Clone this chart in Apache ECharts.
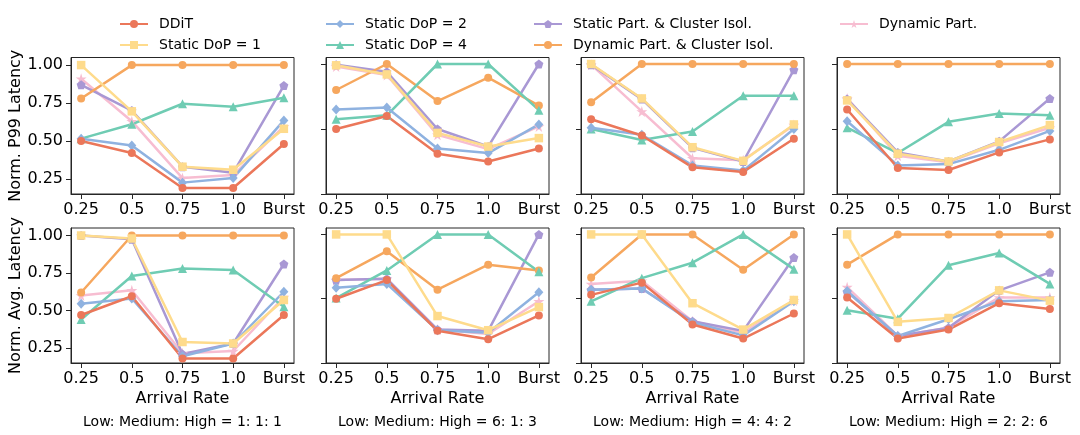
<!DOCTYPE html>
<html><head><meta charset="utf-8">
<script src="https://cdn.jsdelivr.net/npm/echarts@6/dist/echarts.min.js"></script>
<style>html,body{margin:0;padding:0;background:#fff}#c{width:1080px;height:435px}</style>
</head><body><div id="c"></div>
<script>
// ---------- data ----------
const xLabels = ['0.25', '0.5', '0.75', '1.0', 'Burst'];
const ratioLabels = ['Low: Medium: High = 1: 1: 1', 'Low: Medium: High = 6: 1: 3', 'Low: Medium: High = 4: 4: 2', 'Low: Medium: High = 2: 2: 6'];
const methods = ['DDiT', 'Static DoP = 1', 'Static DoP = 2', 'Static DoP = 4', 'Static Part. & Cluster Isol.', 'Dynamic Part. & Cluster Isol.', 'Dynamic Part.'];
const rowNames = ['Norm. P99 Latency', 'Norm. Avg. Latency'];
const col1Ticks = [0.25, 0.5, 0.75, 1.0];
const otherTicks = [0, 0.5, 1.0];

// P99 latency, one row per workload ratio
const p99_DDiT = [
  [0.50, 0.42, 0.19, 0.19, 0.48],
  [0.50, 0.60, 0.31, 0.25, 0.35],
  [0.575, 0.45, 0.205, 0.17, 0.425],
  [0.65, 0.20, 0.185, 0.32, 0.42]];
const p99_DoP1 = [
  [1.0, 0.695, 0.33, 0.31, 0.58],
  [0.99, 0.92, 0.47, 0.365, 0.43],
  [1.0, 0.735, 0.36, 0.255, 0.535],
  [0.72, 0.31, 0.25, 0.40, 0.53]];
const p99_DoP2 = [
  [0.515, 0.47, 0.225, 0.255, 0.635],
  [0.65, 0.665, 0.35, 0.315, 0.535],
  [0.51, 0.455, 0.22, 0.18, 0.50],
  [0.56, 0.22, 0.23, 0.34, 0.485]];
const p99_DoP4 = [
  [0.515, 0.61, 0.745, 0.725, 0.785],
  [0.575, 0.605, 1.0, 1.0, 0.645],
  [0.50, 0.415, 0.48, 0.755, 0.755],
  [0.51, 0.315, 0.555, 0.62, 0.605]];
const p99_StaticPart = [
  [0.87, 0.70, 0.33, 0.29, 0.865],
  [0.995, 0.94, 0.50, 0.365, 1.0],
  [0.995, 0.73, 0.355, 0.25, 0.955],
  [0.73, 0.32, 0.25, 0.405, 0.735]];
const p99_DynCluster = [
  [0.78, 1.0, 1.0, 1.0, 1.0],
  [0.80, 1.0, 0.715, 0.895, 0.68],
  [0.705, 1.0, 1.0, 1.0, 1.0],
  [1.0, 1.0, 1.0, 1.0, 1.0]];
const p99_DynPart = [
  [0.91, 0.63, 0.255, 0.275, 0.595],
  [0.98, 0.915, 0.455, 0.345, 0.52],
  [0.995, 0.635, 0.275, 0.26, 0.53],
  [0.735, 0.295, 0.245, 0.39, 0.51]];

// Average latency
const avg_DDiT = [
  [0.47, 0.595, 0.18, 0.18, 0.47],
  [0.50, 0.645, 0.25, 0.185, 0.37],
  [0.53, 0.625, 0.30, 0.19, 0.385],
  [0.51, 0.19, 0.26, 0.465, 0.42]];
const avg_DoP1 = [
  [1.0, 0.98, 0.29, 0.28, 0.57],
  [1.0, 1.0, 0.365, 0.255, 0.435],
  [1.0, 1.0, 0.465, 0.26, 0.49],
  [1.0, 0.32, 0.35, 0.565, 0.485]];
const avg_DoP2 = [
  [0.545, 0.58, 0.195, 0.28, 0.625],
  [0.585, 0.615, 0.255, 0.235, 0.55],
  [0.57, 0.58, 0.315, 0.215, 0.48],
  [0.56, 0.21, 0.34, 0.48, 0.49]];
const avg_DoP4 = [
  [0.44, 0.73, 0.78, 0.77, 0.525],
  [0.505, 0.72, 1.0, 1.0, 0.71],
  [0.48, 0.66, 0.78, 1.0, 0.73],
  [0.41, 0.345, 0.76, 0.855, 0.615]];
const avg_StaticPart = [
  [1.0, 0.975, 0.21, 0.28, 0.81],
  [0.645, 0.655, 0.26, 0.25, 1.0],
  [0.57, 0.58, 0.325, 0.25, 0.82],
  [0.555, 0.21, 0.275, 0.565, 0.705]];
const avg_DynCluster = [
  [0.62, 1.0, 1.0, 1.0, 1.0],
  [0.66, 0.87, 0.57, 0.765, 0.72],
  [0.665, 1.0, 1.0, 0.725, 1.0],
  [0.765, 1.0, 1.0, 1.0, 1.0]];
const avg_DynPart = [
  [0.60, 0.635, 0.215, 0.23, 0.59],
  [0.645, 0.655, 0.26, 0.225, 0.48],
  [0.615, 0.64, 0.325, 0.235, 0.485],
  [0.59, 0.21, 0.275, 0.51, 0.51]];

const p99Values = [p99_DDiT, p99_DoP1, p99_DoP2, p99_DoP4, p99_StaticPart, p99_DynCluster, p99_DynPart];
const avgValues = [avg_DDiT, avg_DoP1, avg_DoP2, avg_DoP4, avg_StaticPart, avg_DynCluster, avg_DynPart];

// ---------- styles ----------
const STAR = 'path://M50,0 L61,35 L98,35 L68,57 L79,91 L50,70 L21,91 L32,57 L2,35 L39,35 Z';
const PENT = 'path://M50,0 L97,35 L79,90 L21,90 L3,35 Z';
const styles = [
  {color: '#EB775A', symbol: 'circle', size: 8},
  {color: '#FEDB8C', symbol: 'rect', size: 8.5},
  {color: '#8FB2E0', symbol: 'diamond', size: [9, 10]},
  {color: '#6FCCB3', symbol: 'triangle', size: 9},
  {color: '#A998D4', symbol: PENT, size: 9},
  {color: '#F6A75E', symbol: 'circle', size: 8},
  {color: '#F7BDD1', symbol: STAR, size: 11}
];
const drawOrder = [6, 4, 5, 3, 2, 0, 1];

const FONT = 'DejaVu Sans';
const colLeft = [71, 326, 581, 837];
const colWidth = 223;
const rowTop = [57.5, 228];
const rowHeight = [136.5, 135];

const grids = [], xAxes = [], yAxes = [], series = [], graphics = [];
for (let r = 0; r < 2; r++) {
  for (let c = 0; c < 4; c++) {
    const k = r * 4 + c;
    grids.push({left: colLeft[c], top: rowTop[r], width: colWidth, height: rowHeight[r],
      show: true, borderColor: '#262626', borderWidth: 1, backgroundColor: 'transparent', containLabel: false});
    xAxes.push({type: 'value', gridIndex: k, min: -0.2, max: 4.2,
      name: r === 1 ? 'Arrival Rate' : '', nameLocation: 'middle', nameGap: 28,
      nameTextStyle: {fontFamily: FONT, fontSize: 16, color: '#000'},
      axisLine: {show: true, onZero: false, lineStyle: {color: '#262626', width: 1}},
      axisTick: {show: true, length: 5, customValues: [0, 1, 2, 3, 4], lineStyle: {color: '#262626', width: 1}},
      axisLabel: {show: true, customValues: [0, 1, 2, 3, 4], margin: 8, fontFamily: FONT, fontSize: 16, color: '#000',
        formatter: v => xLabels[Math.round(v)]},
      splitLine: {show: false}});
    const first = c === 0;
    yAxes.push({type: 'value', gridIndex: k,
      min: first ? 0.15 : 0, max: 1.05,
      name: first ? rowNames[r] : '', nameLocation: 'middle', nameGap: 45, nameRotate: 90,
      nameTextStyle: {fontFamily: FONT, fontSize: 16, color: '#000'},
      axisLine: {show: true, onZero: false, lineStyle: {color: '#262626', width: 1}},
      axisTick: {show: true, length: 5, customValues: first ? col1Ticks : otherTicks, lineStyle: {color: '#262626', width: 1}},
      axisLabel: {show: first, customValues: col1Ticks, margin: 8, fontFamily: FONT, fontSize: 16, color: '#000',
        formatter: v => v.toFixed(2)},
      splitLine: {show: false}});
    const vals = r === 0 ? p99Values : avgValues;
    drawOrder.forEach(m => {
      const st = styles[m];
      series.push({type: 'line', name: methods[m], xAxisIndex: k, yAxisIndex: k,
        data: vals[m][c].map((v, i) => [i, v]),
        symbol: st.symbol, symbolSize: st.size, showSymbol: true,
        lineStyle: {color: st.color, width: 2.5},
        itemStyle: {color: st.color, borderWidth: 0},
        emphasis: {disabled: true}, silent: true, animation: false});
    });
  }
}
ratioLabels.forEach((t, c) => {
  graphics.push({type: 'text', x: colLeft[c] + colWidth / 2, y: 422,
    style: {text: t, fontFamily: FONT, fontSize: 14, fill: '#000', textAlign: 'center', textVerticalAlign: 'middle'}});
});

const legendBase = {orient: 'vertical', top: 12, itemGap: 7, itemWidth: 28, itemHeight: 10,
  textStyle: {fontFamily: FONT, fontSize: 14, color: '#000', padding: [0, 0, 0, 6]}, selectedMode: false};
const legends = [
  Object.assign({}, legendBase, {left: 114, data: [methods[0], methods[1]]}),
  Object.assign({}, legendBase, {left: 320, data: [methods[2], methods[3]]}),
  Object.assign({}, legendBase, {left: 528, data: [methods[4], methods[5]]}),
  Object.assign({}, legendBase, {left: 834, data: [methods[6]]})
];

const chart = echarts.init(document.getElementById('c'), null, {renderer: 'canvas'});
chart.setOption({
  animation: false,
  backgroundColor: '#fff',
  textStyle: {fontFamily: FONT},
  legend: legends,
  grid: grids, xAxis: xAxes, yAxis: yAxes, series: series,
  graphic: graphics
});
</script></body></html>
